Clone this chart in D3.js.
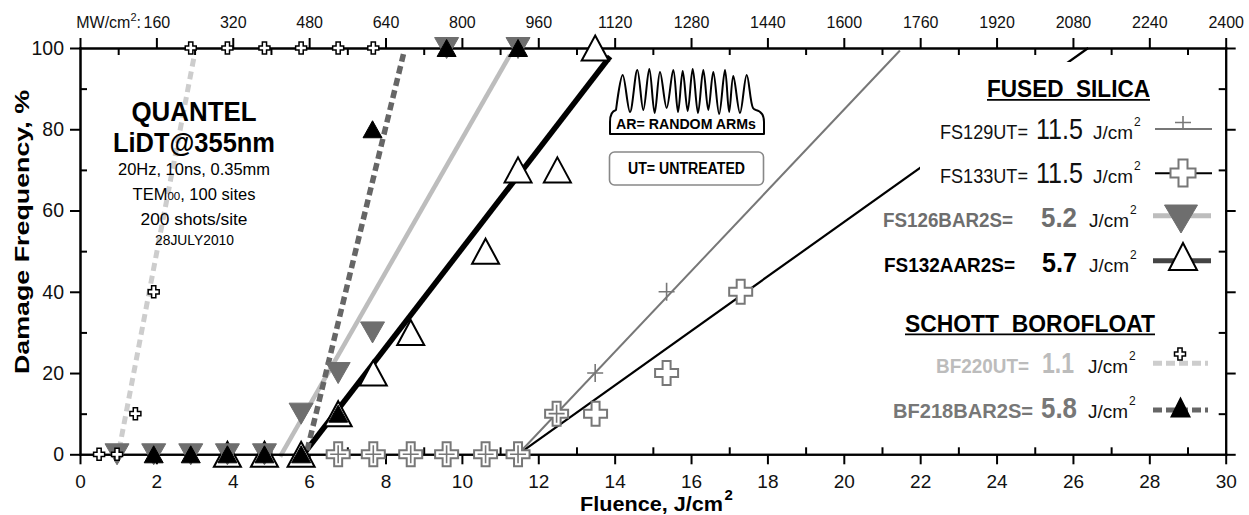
<!DOCTYPE html>
<html>
<head>
<meta charset="utf-8">
<script src="https://cdn.jsdelivr.net/npm/d3@7/dist/d3.min.js"></script>
<style>
html,body{margin:0;padding:0;background:#fff;}
svg{display:block;font-family:"Liberation Sans",Arial,Helvetica,sans-serif;}
</style>
</head>
<body>
<svg id="chart" width="1249" height="515"></svg>
<script>
// ---------------- data ----------------
const xMajorTicks = [0,2,4,6,8,10,12,14,16,18,20,22,24,26,28,30];
const xMinorTicks = [1,3,5,7,9,11,13,15,17,19,21,23,25,27,29];
const xTickLabels = ["0","2","4","6","8","10","12","14","16","18","20","22","24","26","28","30"];
const topTickValues = [0,2,4,6,8,10,12,14,16,18,20,22,24,26,28,30];
const topTickLabels = ["160","320","480","640","800","960","1120","1280","1440","1600","1760","1920","2080","2240","2400"];
const yMajorTicks = [0,20,40,60,80,100];
const yMinorTicks = [10,30,50,70,90];
const yTickLabels = ["0","20","40","60","80","100"];

// measured points (fluence J/cm2, damage frequency %)
const fs129X = [6.76,7.68,8.66,9.6,10.62,11.47,12.48,13.49,15.36];
const fs129Y = [0,0,0,0,0,0,10,20,40];
const fs133X = [6.76,7.68,8.66,9.6,10.62,11.47,12.48,13.5,15.36,17.3];
const fs133Y = [0,0,0,0,0,0,10,10,20,40];
const fs126X = [0.97,1.93,2.9,3.86,4.83,5.79,6.76,7.66,9.6,11.47];
const fs126Y = [0,0,0,0,0,10,20,30,100,100];
const fs132X = [3.86,4.83,5.79,6.76,7.68,8.66,10.62,11.47,12.5,13.49];
const fs132Y = [0,0,0,10,20,30,50,70,70,100];
const bf220X = [0.5,0.97,1.45,1.93,2.9,3.86,4.83,5.79,6.76,7.68];
const bf220Y = [0,0,10,40,100,100,100,100,100,100];
const bf218X = [1.93,2.9,3.86,4.83,5.79,6.76,7.66,9.6,11.47];
const bf218Y = [0,0,0,0,0,10,80,100,100];

// linear threshold fits (start/end)
const fs129FitX = [11.47,21.47], fs129FitY = [0,99.4];
const fs133FitX = [11.47,26.4],  fs133FitY = [0,100];
const fs126FitX = [5.24,11.26],  fs126FitY = [-0.6,98.3];
const fs132FitX = [5.8,13.88],   fs132FitY = [-0.6,97.9];
const bf220FitX = [0.96,2.98],   bf220FitY = [-2,97.5];
const bf218FitX = [5.87,8.47],   bf218FitY = [-2,98.5];

// legend
const legendNames = ["FS129UT=","FS133UT=","FS126BAR2S=","FS132AAR2S=","BF220UT=","BF218BAR2S="];
const legendValues = ["11.5","11.5","5.2","5.7","1.1","5.8"];

// ---------------- drawing ----------------
const svg = d3.select("#chart");
const x = d3.scaleLinear().domain([0,30]).range([80,1225.7]);
const y = d3.scaleLinear().domain([0,100]).range([454.3,48]);
const zip = (xs, ys) => xs.map((v,i)=>[v, ys[i]]);
const lineGen = d3.line().x(d=>x(d[0])).y(d=>y(d[1]));

function txt(g, str, px, py, o={}) {
  const t = g.append("text").attr("x",px).attr("y",py).text(str)
    .attr("font-size", o.size||16).attr("font-weight", o.weight||"normal")
    .attr("fill", o.fill||"#000").attr("text-anchor", o.anchor||"start");
  if (o.len) t.attr("textLength", o.len).attr("lengthAdjust","spacingAndGlyphs");
  return t;
}
function triPath(w,h,down){
  return down ? `M${-w/2},${-h/2}L${w/2},${-h/2}L0,${h/2}Z`
              : `M0,${-h/2}L${w/2},${h/2}L${-w/2},${h/2}Z`;
}
function crossPath(w,h,t){
  const a=w/2,b=h/2,c=t/2;
  return `M${-c},${-b}H${c}V${-c}H${a}V${c}H${c}V${b}H${-c}V${c}H${-a}V${-c}H${-c}Z`;
}
function plusPath(a,b){ return `M${-a},0H${a}M0,${-b}V${b}`; }

// fit lines
const lines = svg.append("g").attr("fill","none");
function fit(xs, ys, color, w, dash){
  lines.append("path").attr("d", lineGen(zip(xs,ys))).attr("stroke",color)
    .attr("stroke-width",w).attr("stroke-dasharray",dash||null);
}
fit(fs133FitX, fs133FitY, "#000", 2.2);
fit(fs129FitX, fs129FitY, "#777", 2);
fit(fs126FitX, fs126FitY, "#bdbdbd", 4.5);
fit(fs132FitX, fs132FitY, "#000", 5.5);
fit(bf220FitX, bf220FitY, "#cdcdcd", 5, "8,5");
fit(bf218FitX, bf218FitY, "#666", 5.5, "8,4.5");

// legend background (hides the fit line behind the legend)
svg.append("rect").attr("x",920).attr("y",62).attr("width",296).attr("height",372).attr("fill","#fff");

// axes
function styleAxis(g, fs){
  g.attr("font-family",null).attr("font-size",fs);
  g.select(".domain").attr("stroke","#000").attr("stroke-width",2).attr("stroke-linecap","square");
  g.selectAll(".tick line").attr("stroke","#000").attr("stroke-width",2);
  g.selectAll(".tick text").attr("fill","#111");
}
const gB = svg.append("g").attr("transform",`translate(0,${y(0)})`)
  .call(d3.axisBottom(x).tickValues(xMajorTicks).tickFormat((d,i)=>xTickLabels[i]).tickSize(10).tickPadding(10).tickSizeOuter(0));
styleAxis(gB, 19);
const gBm = svg.append("g").attr("transform",`translate(0,${y(0)})`)
  .call(d3.axisBottom(x).tickValues(xMinorTicks).tickFormat("").tickSize(-7).tickSizeOuter(0));
styleAxis(gBm, 19);

const gT = svg.append("g").attr("transform",`translate(0,${y(100)})`)
  .call(d3.axisTop(x).tickValues(topTickValues).tickFormat((d,i)=> i===0 ? "" : topTickLabels[i-1]).tickSize(10).tickPadding(10).tickSizeOuter(0));
styleAxis(gT, 16);
const gTm = svg.append("g").attr("transform",`translate(0,${y(100)})`)
  .call(d3.axisTop(x).tickValues(xMinorTicks).tickFormat("").tickSize(-7).tickSizeOuter(0));
styleAxis(gTm, 16);

const gL = svg.append("g").attr("transform",`translate(${x(0)},0)`)
  .call(d3.axisLeft(y).tickValues(yMajorTicks).tickFormat((d,i)=>yTickLabels[i]).tickSize(10).tickPadding(6).tickSizeOuter(0));
styleAxis(gL, 19.5);
const gLm = svg.append("g").attr("transform",`translate(${x(0)},0)`)
  .call(d3.axisLeft(y).tickValues(yMinorTicks).tickFormat("").tickSize(-7).tickSizeOuter(0));
styleAxis(gLm, 19);

const gR = svg.append("g").attr("transform",`translate(${x(30)},0)`)
  .call(d3.axisRight(y).tickValues(yMajorTicks).tickFormat("").tickSize(10).tickSizeOuter(0));
styleAxis(gR, 19);
const gRm = svg.append("g").attr("transform",`translate(${x(30)},0)`)
  .call(d3.axisRight(y).tickValues(yMinorTicks).tickFormat("").tickSize(-7).tickSizeOuter(0));
styleAxis(gRm, 19);

// top axis prefix "MW/cm2:"
const firstTop = gT.selectAll(".tick text").filter((d)=>d===2).node();
const fb = firstTop.getBBox();
const pre = svg.append("text").attr("x", x(2) + fb.x - 2).attr("y", y(100)-20)
  .attr("text-anchor","end").attr("font-size",16).attr("fill","#111");
pre.append("tspan").text("MW/cm");
pre.append("tspan").text("2").attr("font-size",11).attr("dy",-7);
pre.append("tspan").text(":").attr("dy",7);

// axis titles
txt(svg, "Damage Frequency, %", 0, 0, {size:21, weight:"bold", anchor:"middle", len:284})
  .attr("transform","translate(28.5,232) rotate(-90)");
txt(svg, "Fluence, J/cm", 580, 511, {size:21, weight:"bold", len:143});
txt(svg, "2", 724.5, 500, {size:15, weight:"bold"});

// markers
const mk = svg.append("g");
function markers(xs, ys, d, fill, stroke, sw){
  mk.append("g").selectAll("path").data(zip(xs,ys)).join("path")
    .attr("transform", p=>`translate(${x(p[0])},${y(p[1])})`)
    .attr("d", d).attr("fill", fill).attr("stroke", stroke).attr("stroke-width", sw);
}
markers(fs133X, fs133Y, crossPath(23,24,8), "#fff", "#777", 2);
markers(fs129X, fs129Y, plusPath(8,9), "none", "#777", 1.6);
markers(fs132X, fs132Y, triPath(27,25,false), "#fff", "#000", 2);
markers(fs126X, fs126Y, triPath(24,21,true), "#6e6e6e", "#6e6e6e", 1);
markers(bf218X, bf218Y, triPath(19,17,false), "#000", "#000", 1);
markers(bf220X, bf220Y, crossPath(11,12,4.2), "#fff", "#000", 1.5);

// -------- annotation block (left) --------
const ann = svg.append("g");
txt(ann, "QUANTEL", 194, 121, {size:28, weight:"bold", anchor:"middle", len:125});
txt(ann, "LiDT@355nm", 194, 152, {size:28, weight:"bold", anchor:"middle", len:162});
txt(ann, "20Hz, 10ns, 0.35mm", 194, 175, {size:16.5, anchor:"middle", len:152});
const tem = ann.append("text").attr("x",194).attr("y",199.5).attr("font-size",16.5).attr("text-anchor","middle");
tem.append("tspan").text("TEM");
tem.append("tspan").text("00").attr("font-size",11.5);
tem.append("tspan").text(", 100 sites");
txt(ann, "200 shots/site", 194, 224.5, {size:16.5, anchor:"middle", len:107});
txt(ann, "28JULY2010", 194.5, 245, {size:14, anchor:"middle", len:79});

// -------- AR box --------
const ar = svg.append("g");
const peaksX = [622.7,637.3,649.3,660,673.3,682.7,692.7,703.3,713.3,725,733.3,746.7];
const peaksY = [75,70,69,72,70,71,69,70,72,70,76,75];
const troughY = [112,110,113,108,112,111,113,110,114,112,113];
const wave = [[616,110]];
peaksX.forEach((px,i)=>{
  wave.push([px, peaksY[i]]);
  if (i < peaksX.length-1) wave.push([(px+peaksX[i+1])/2, troughY[i]]);
});
wave.push([753,108],[756,110]);
const waveD = d3.line().curve(d3.curveCatmullRom.alpha(0.5))(wave).replace(/^M/,"L");
ar.append("path")
  .attr("d", `M610,134L610,122C610,114 612,111 616,110` + waveD + `C760,111 764,114 764,122L764,134Z`)
  .attr("fill","#fff").attr("stroke","#000").attr("stroke-width",2).attr("stroke-linejoin","round");
txt(ar, "AR= RANDOM ARMs", 686, 129, {size:15, weight:"bold", anchor:"middle", len:140});

ar.append("rect").attr("x",609.5).attr("y",152).attr("width",154).attr("height",33).attr("rx",5)
  .attr("fill","#fff").attr("stroke","#888").attr("stroke-width",1.6);
txt(ar, "UT= UNTREATED", 686.5, 174, {size:16, weight:"bold", anchor:"middle", len:117});

// -------- legend --------
const lg = svg.append("g");
txt(lg, "FUSED  SILICA", 987, 97, {size:24, weight:"bold", len:163}).attr("xml:space","preserve");
lg.append("line").attr("x1",987).attr("x2",1150).attr("y1",99.8).attr("y2",99.8).attr("stroke","#000").attr("stroke-width",1.8);
txt(lg, "SCHOTT  BOROFLOAT", 905, 332, {size:24, weight:"bold", len:250}).attr("xml:space","preserve");
lg.append("line").attr("x1",905).attr("x2",1155).attr("y1",334.3).attr("y2",334.3).attr("stroke","#000").attr("stroke-width",1.8);

const rows = [
  {base:139,   nameEnd:1028, nameLen:88,  nameW:"normal", nameC:"#111", valX:1036, valLen:47, valS:30, valW:"normal", valC:"#111", jx:1093},
  {base:183,   nameEnd:1028, nameLen:88,  nameW:"normal", nameC:"#111", valX:1036, valLen:47, valS:30, valW:"normal", valC:"#111", jx:1093},
  {base:226.5, nameEnd:1013, nameLen:130, nameW:"bold",   nameC:"#6e6e6e", valX:1041, valLen:36, valS:28, valW:"bold", valC:"#6e6e6e", jx:1089},
  {base:271.7, nameEnd:1015, nameLen:131, nameW:"bold",   nameC:"#000", valX:1042, valLen:35, valS:28, valW:"bold", valC:"#000", jx:1089},
  {base:372.5, nameEnd:1029, nameLen:93,  nameW:"bold",   nameC:"#bcbcbc", valX:1042, valLen:32, valS:29, valW:"bold", valC:"#bcbcbc", jx:1088},
  {base:417.5, nameEnd:1033, nameLen:140, nameW:"bold",   nameC:"#777", valX:1041, valLen:36, valS:29, valW:"bold", valC:"#777", jx:1088}
];
rows.forEach((r,i)=>{
  txt(lg, legendNames[i], r.nameEnd, r.base, {size:21, weight:r.nameW, fill:r.nameC, anchor:"end", len:r.nameLen});
  txt(lg, legendValues[i], r.valX, r.base, {size:r.valS, weight:r.valW, fill:r.valC, len:r.valLen});
  txt(lg, "J/cm", r.jx, r.base, {size:18, fill:"#111", len:40});
  txt(lg, "2", r.jx+41, r.base-13, {size:12, fill:"#111"});
});

// legend samples
const ls = lg.append("g");
ls.append("line").attr("x1",1155).attr("x2",1212).attr("y1",129).attr("y2",129).attr("stroke","#777").attr("stroke-width",2);
ls.append("path").attr("transform","translate(1183,122.5)").attr("d",plusPath(8,6.5)).attr("stroke","#777").attr("stroke-width",1.6).attr("fill","none");

ls.append("line").attr("x1",1155).attr("x2",1212).attr("y1",173.3).attr("y2",173.3).attr("stroke","#000").attr("stroke-width",2);
ls.append("path").attr("transform","translate(1183,173)").attr("d",crossPath(25,27,9)).attr("fill","#fff").attr("stroke","#777").attr("stroke-width",2);

ls.append("line").attr("x1",1153).attr("x2",1211).attr("y1",215.7).attr("y2",215.7).attr("stroke","#bdbdbd").attr("stroke-width",5);
ls.append("path").attr("transform","translate(1181,219)").attr("d",triPath(33,28,true)).attr("fill","#6e6e6e").attr("stroke","#6e6e6e");

ls.append("line").attr("x1",1153).attr("x2",1211).attr("y1",260.7).attr("y2",260.7).attr("stroke","#444").attr("stroke-width",5);
ls.append("path").attr("transform","translate(1183,256.5)").attr("d",triPath(28,27,false)).attr("fill","#fff").attr("stroke","#000").attr("stroke-width",2);

ls.append("line").attr("x1",1153).attr("x2",1208).attr("y1",363.3).attr("y2",363.3).attr("stroke","#cdcdcd").attr("stroke-width",5).attr("stroke-dasharray","9,4");
ls.append("path").attr("transform","translate(1180,354)").attr("d",crossPath(11,12,4.2)).attr("fill","#fff").attr("stroke","#000").attr("stroke-width",1.5);

ls.append("line").attr("x1",1153).attr("x2",1208).attr("y1",410).attr("y2",410).attr("stroke","#666").attr("stroke-width",5).attr("stroke-dasharray","9,4");
ls.append("path").attr("transform","translate(1180.5,407)").attr("d",triPath(21,21,false)).attr("fill","#000");
</script>
</body>
</html>
